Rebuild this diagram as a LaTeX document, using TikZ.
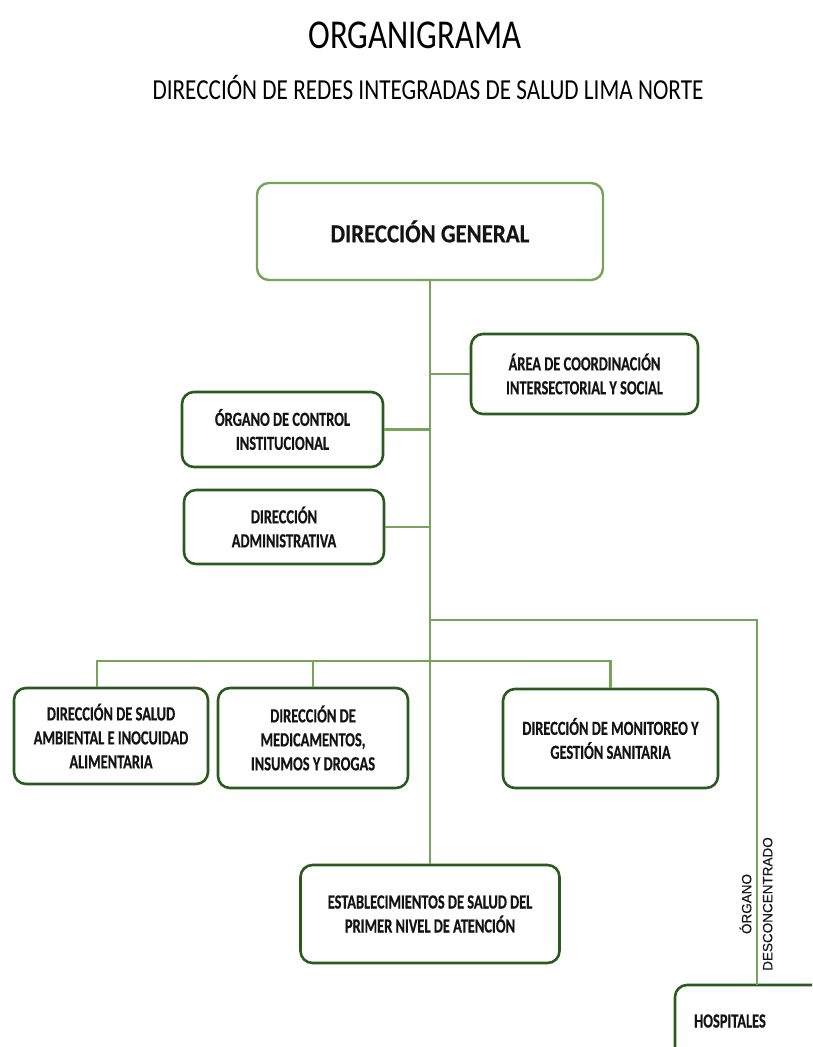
\documentclass[tikz,border=0pt]{standalone}
\usepackage{fontspec}
\setmainfont{Carlito}
\newfontfamily\cfont[FakeStretch=0.8]{Carlito}
\newfontfamily\bfont[FakeStretch=0.72,FakeBold=0.5]{Carlito}
\newfontfamily\dfont[FakeStretch=0.88,FakeBold=0.5]{Carlito}
\newfontfamily\sfont[FakeBold=0.4]{Liberation Sans}
\definecolor{boxgreen}{HTML}{2A5A1E}
\definecolor{linegreen}{HTML}{78A35A}
\tikzset{
  orgbox/.style={draw=boxgreen, line width=2.6pt, rounded corners=12pt, align=center,
    inner sep=2pt, font=\bfont\bfseries\fontsize{20}{24}\selectfont, text=black!92},
  topbox/.style={orgbox, draw=linegreen, line width=2.4pt, font=\dfont\bfseries\fontsize{26}{30}\selectfont},
  conn/.style={draw=linegreen, line width=2.4pt},
}
\begin{document}
\begin{tikzpicture}[x=1pt,y=-1pt]
\clip (0,0) rectangle (812,1047);
\fill[white] (0,0) rectangle (812,1047);
% titles
\node[font=\cfont\fontsize{41}{48}\selectfont] (title) at (415,35) {ORGANIGRAMA};
\node[font=\cfont\fontsize{29}{34}\selectfont] (subtitle) at (428,87) {DIRECCIÓN DE REDES INTEGRADAS DE SALUD LIMA NORTE};
% boxes
\node[topbox, minimum width=346pt, minimum height=97pt] (dg) at (430,231.5) {DIRECCIÓN GENERAL};
\node[orgbox, minimum width=227pt, minimum height=80pt] (acis) at (584.5,374) {ÁREA DE COORDINACIÓN\\INTERSECTORIAL Y SOCIAL};
\node[orgbox, minimum width=201pt, minimum height=75pt] (oci) at (282.5,429.5) {ÓRGANO DE CONTROL\\INSTITUCIONAL};
\node[orgbox, minimum width=200pt, minimum height=74pt] (da) at (284,527) {DIRECCIÓN\\ADMINISTRATIVA};
\node[orgbox, minimum width=194pt, minimum height=96pt] (dsa) at (111,736) {DIRECCIÓN DE SALUD\\AMBIENTAL E INOCUIDAD\\ALIMENTARIA};
\node[orgbox, minimum width=190pt, minimum height=100pt] (dmid) at (313,738) {DIRECCIÓN DE\\MEDICAMENTOS,\\INSUMOS Y DROGAS};
\node[orgbox, minimum width=215pt, minimum height=99pt] (dmgs) at (610.5,738.5) {DIRECCIÓN DE MONITOREO Y\\GESTIÓN SANITARIA};
\node[orgbox, minimum width=259pt, minimum height=98pt] (esp) at (430,914) {ESTABLECIMIENTOS DE SALUD DEL\\PRIMER NIVEL DE ATENCIÓN};
% hospitales (cut by the page edge)
\draw[draw=boxgreen, line width=2.6pt, rounded corners=12pt] (675,985) rectangle (860,1090);
\node[font=\bfont\bfseries\fontsize{20}{24}\selectfont, text=black!92] (hosp) at (730,1021) {HOSPITALES};
\coordinate (hosptop) at (757,985);
% connectors
\coordinate (br) at (430,620);
\coordinate (bus) at (430,661);
\draw[conn] (dg.south) -- (esp.north);
\draw[conn] (acis.west) -- (acis.west -| dg.south);
\draw[conn] (oci.east) -- (oci.east -| dg.south);
\draw[conn] (da.east) -- (da.east -| dg.south);
\draw[conn] (br) -| (hosptop);
\draw[conn] ([xshift=-14pt]dsa.north) |- (bus) -| (dmgs.north);
\draw[conn] (dmid.north) -- (dmid.north |- bus);
% vertical label
\node[rotate=90, align=center, font=\sfont\fontsize{13.5}{21}\selectfont, text=black!90] (od) at (756,904) {ÓRGANO\\DESCONCENTRADO};
\end{tikzpicture}
\end{document}
